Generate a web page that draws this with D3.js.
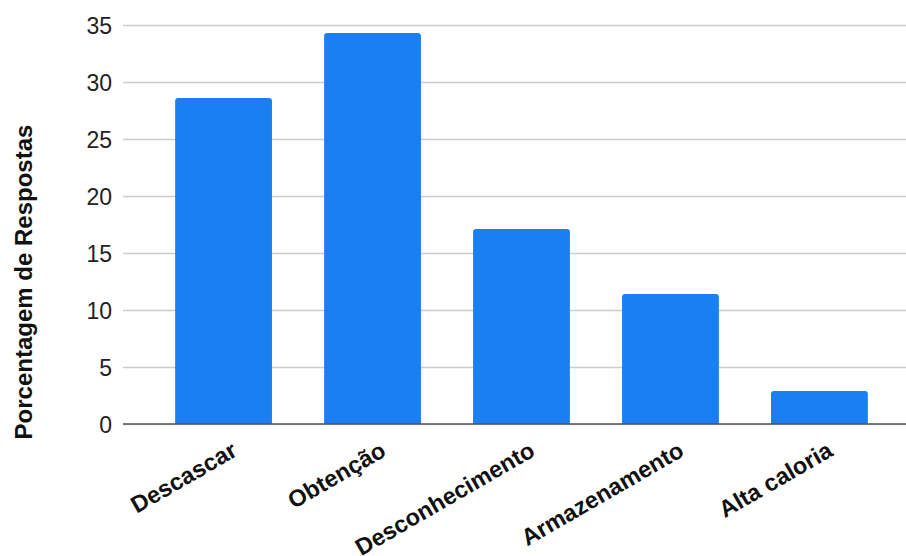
<!DOCTYPE html>
<html>
<head>
<meta charset="utf-8">
<script src="https://cdn.jsdelivr.net/npm/d3@7"></script>
<style>
  body { margin: 0; background: #fff; }
  svg { font-family: "Liberation Sans", Arial, sans-serif; }
  .grid line { stroke: #cccccc; stroke-width: 1.5; }
  .grid .domain { display: none; }
  .y.axis .domain, .y.axis line { display: none; }
  .y.axis text { fill: #222; font-size: 23px; }
  .x.axis text { fill: #111; font-size: 23.5px; font-weight: bold; }
  .x.axis line { display: none; }
  .x.axis .domain { stroke: #555; stroke-width: 1.5; }
</style>
</head>
<body>
<script>
var categories = ['Descascar', 'Obtenção', 'Desconhecimento', 'Armazenamento', 'Alta caloria'];
var values = [28.6, 34.3, 17.1, 11.4, 2.9];
var yTicks = [0, 5, 10, 15, 20, 25, 30, 35];
var yTitle = 'Porcentagem de Respostas';

var W = 906, H = 556,
    mLeft = 123, mTop = 25, mRight = 906, mBottom = 424;

var svg = d3.select('body').append('svg')
    .attr('width', W)
    .attr('height', H);

var vScale = d3.scaleLinear()
    .domain([0, 35])
    .range([mBottom, mTop]);

var bScale = d3.scaleBand()
    .domain(categories)
    .range([mLeft, 920])
    .paddingInner(0.35)
    .paddingOuter(0.35);

// gridlines
svg.append('g')
    .attr('class', 'grid')
    .attr('transform', 'translate(' + mLeft + ',0)')
    .call(d3.axisRight(vScale).tickValues(yTicks).tickSize(mRight - mLeft).tickFormat(''));

svg.append('g')
    .attr('class', 'y axis')
    .attr('transform', 'translate(' + (mLeft - 11) + ',0)')
    .call(d3.axisLeft(vScale).tickValues(yTicks).tickSize(0).tickPadding(0))
    .selectAll('text')
    .attr('dy', '0.36em');

// bars, small rounded top corners
svg.append('g').selectAll('path')
    .data(values)
    .enter()
    .append('path')
    .attr('fill', '#1a7ff0')
    .attr('d', function(d, i) {
        var x = bScale(categories[i]), w = bScale.bandwidth(),
            y = vScale(d), y0 = vScale(0), r = 3;
        return 'M' + x + ',' + y0 + 'V' + (y + r) + 'Q' + x + ',' + y + ' ' + (x + r) + ',' + y +
            'H' + (x + w - r) + 'Q' + (x + w) + ',' + y + ' ' + (x + w) + ',' + (y + r) + 'V' + y0 + 'Z';
    });

// x axis baseline and labels
var xAxis = d3.axisBottom(bScale).tickSize(0).tickSizeOuter(0);
var xx = svg.append('g')
    .attr('class', 'x axis')
    .attr('transform', 'translate(0,' + mBottom + ')')
    .call(xAxis);

xx.select('.domain')
    .attr('d', 'M' + mLeft + ',0H' + mRight);

xx.selectAll('.tick text')
    .attr('text-anchor', 'end')
    .attr('y', 0)
    .attr('dy', 0)
    .attr('transform', 'translate(15,31) rotate(-30)');

// y title
svg.append('text')
    .attr('transform', 'translate(32,' + 282 + ') rotate(-90)')
    .attr('text-anchor', 'middle')
    .style('font-size', '24px')
    .style('font-weight', 'bold')
    .style('fill', '#111')
    .text(yTitle);
</script>
</body>
</html>
